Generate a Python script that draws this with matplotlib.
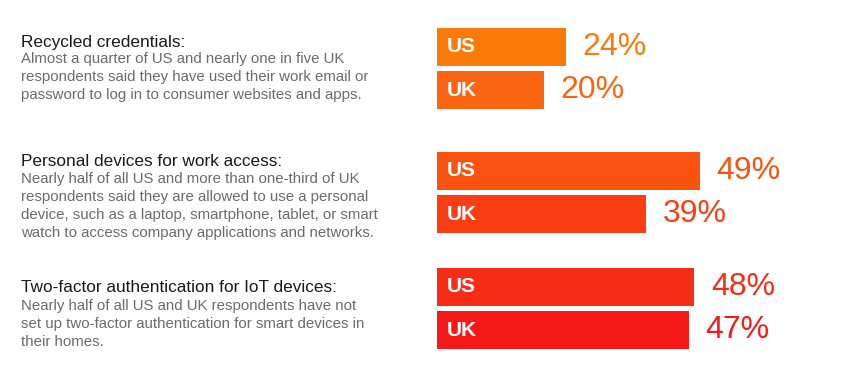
import matplotlib
matplotlib.use("Agg")
import matplotlib.pyplot as plt

plt.rcParams['font.family'] = ['Liberation Sans', 'DejaVu Sans']

# data
countries = ["US", "UK"]
values = [[24, 20], [49, 39], [48, 47]]
titles = [
    "Recycled credentials:",
    "Personal devices for work access:",
    "Two-factor authentication for IoT devices:",
]
bodies = [
    ["Almost a quarter of US and nearly one in five UK",
     "respondents said they have used their work email or",
     "password to log in to consumer websites and apps."],
    ["Nearly half of all US and more than one-third of UK",
     "respondents said they are allowed to use a personal",
     "device, such as a laptop, smartphone, tablet, or smart",
     "watch to access company applications and networks."],
    ["Nearly half of all US and UK respondents have not",
     "set up two-factor authentication for smart devices in",
     "their homes."],
]
colors = [["#FB7A0A", "#FB6410"], ["#F9530F", "#F83E12"], ["#F62D14", "#F51A17"]]

# layout (pixels)
W, H = 855, 384
group_tops = [28, 152, 268]
bar_h = 38
bar_gap = 5
title_base = [47, 166, 292]
body_base = [63, 183, 310]
line_step = 18
bar_x0 = 437
px_per_pct = 5.36

fig = plt.figure(figsize=(W / 100, H / 100), dpi=100)
fig.patch.set_facecolor("white")
ax = fig.add_axes([bar_x0 / W, 0, 1 - bar_x0 / W, 1])
ax.set_xlim(0, (W - bar_x0) / px_per_pct)
ax.set_ylim(H, 0)
ax.axis("off")

for g, top in enumerate(group_tops):
    for i, c in enumerate(countries):
        yc = top + bar_h / 2 + i * (bar_h + bar_gap)
        v = values[g][i]
        col = colors[g][i]
        ax.barh(yc, v, height=bar_h, left=0, color=col, linewidth=0)
        ax.annotate(c, (0, yc), xytext=(7, 0), textcoords="offset points",
                    ha="left", va="center", color="white", fontsize=15,
                    fontweight="bold")
        ax.annotate(f"{v}%", (v, yc), xytext=(12, 0), textcoords="offset points",
                    ha="left", va="center", color=col, fontsize=23)

    fig.text(21 / W, 1 - title_base[g] / H, titles[g], ha="left", va="baseline",
             fontsize=12.4, color="#1a1a1a")
    for k, line in enumerate(bodies[g]):
        fig.text(21 / W, 1 - (body_base[g] + k * line_step) / H, line,
                 ha="left", va="baseline", fontsize=10.8, color="#6b6b6b")

fig.savefig("out.png", dpi=100)
